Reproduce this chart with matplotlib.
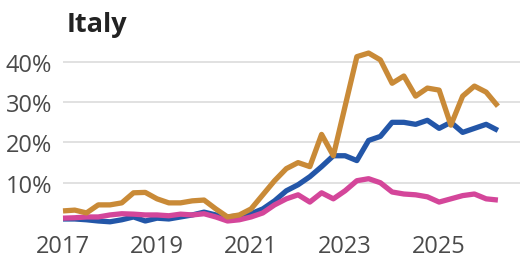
import numpy as np
import matplotlib.pyplot as plt

# quarterly observations, 2017Q1 .. 2026Q2
start_year = 2017
gold = [3.0, 3.2, 2.5, 4.5, 4.5, 5.0, 7.5, 7.6, 6.0, 5.0, 5.0, 5.5, 5.7, 3.5, 1.5, 2.0,
        3.5, 7.0, 10.5, 13.5, 15.0, 14.0, 22.0, 16.7, 29.0, 41.3, 42.2, 40.5, 34.7, 36.5,
        31.5, 33.5, 33.0, 24.3, 31.5, 34.0, 32.5, 29.0]
blue = [1.0, 1.0, 0.8, 0.5, 0.3, 0.8, 1.5, 0.5, 1.2, 1.0, 1.5, 2.0, 2.7, 2.0, 1.5, 1.8,
        2.3, 3.5, 5.5, 8.0, 9.5, 11.5, 14.0, 16.7, 16.7, 15.5, 20.5, 21.5, 25.0, 25.0,
        24.5, 25.5, 23.5, 25.0, 22.5, 23.5, 24.5, 23.0]
pink = [1.2, 1.3, 1.5, 1.5, 2.0, 2.3, 2.2, 2.0, 2.0, 1.8, 2.2, 2.0, 2.3, 1.5, 0.5, 0.8,
        1.5, 2.5, 4.5, 6.0, 7.0, 5.2, 7.5, 6.0, 8.0, 10.5, 11.0, 10.0, 7.7, 7.2,
        7.0, 6.5, 5.2, 6.0, 6.8, 7.2, 6.0, 5.7]
t = start_year + np.arange(len(gold)) / 4

x_ticks = [2017, 2019, 2021, 2023, 2025]
y_ticks = [10, 20, 30, 40]
y_labels = ['10%', '20%', '30%', '40%']

plt.rcParams['font.family'] = ['Open Sans', 'DejaVu Sans']

fig = plt.figure(figsize=(5.23, 2.55), dpi=100)
ax = fig.add_axes([63/523, 31/255, (520-63)/523, 178/255])

ax.plot(t, blue, color='#2356a8', lw=3.8, solid_capstyle='butt', clip_on=False, zorder=3)
ax.plot(t, pink, color='#d4469a', lw=3.8, solid_capstyle='butt', clip_on=False, zorder=4)
ax.plot(t, gold, color='#c98a37', lw=3.8, solid_capstyle='butt', clip_on=False, zorder=5)

ax.set_xlim(2017, 2026.72)
ax.set_ylim(0, 44.2)
ax.set_xticks(x_ticks)
ax.set_xticklabels([str(y) for y in x_ticks])
ax.set_yticks(y_ticks)
ax.set_yticklabels(y_labels)
ax.grid(axis='y', color='#dcdcdc', lw=1.2)
ax.set_axisbelow(True)
for s in ax.spines.values():
    s.set_visible(False)
ax.tick_params(length=0, labelsize=17, labelcolor='#4a4a4a')
ax.tick_params(axis='y', pad=8)
ax.tick_params(axis='x', pad=8)

fig.text(67/523, 1 - 32/255, 'Italy', fontsize=19.5, fontweight='bold', color='#222222',
         ha='left', va='baseline')

fig.savefig('out.png', dpi=100)
